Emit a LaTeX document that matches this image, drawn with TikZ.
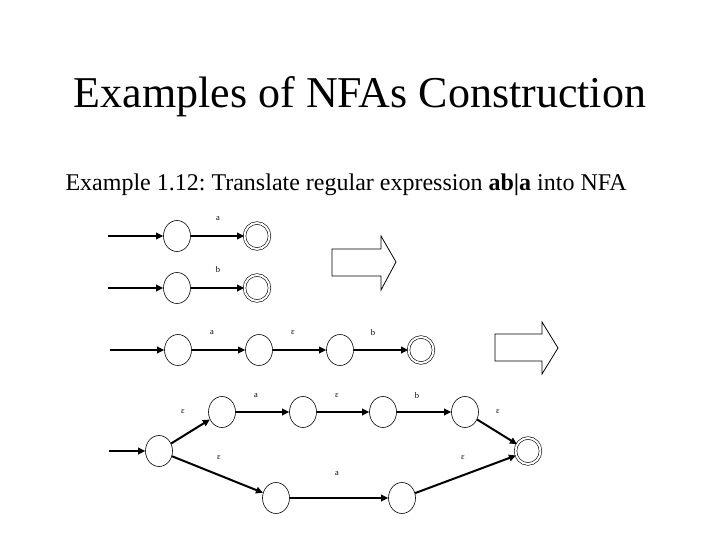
\documentclass[tikz,border=0pt]{standalone}
\usepackage{fontspec}
\setmainfont{Liberation Serif}
\usetikzlibrary{arrows.meta,shapes.geometric}
\frenchspacing
\begin{document}
\begin{tikzpicture}[x=1pt,y=-1pt,
  st/.style={draw,ellipse,line width=0.6pt,minimum width=27pt,minimum height=31pt,inner sep=0pt},
  acc/.style={draw,ellipse,double,double distance=2pt,line width=0.6pt,minimum width=25pt,minimum height=26pt,inner sep=0pt},
  tr/.style={line width=2pt,-{Triangle[length=7pt,width=6.5pt]}},
  lab/.style={font=\fontsize{8.5}{9}\selectfont,inner sep=0pt},
  big/.style={draw,line width=0.8pt}]
\useasboundingbox (0,0) rectangle (720,540);
\node[font=\fontsize{44}{50}\selectfont] (title) at (360,97) {Examples of NFAs Construction};
\node[font=\fontsize{24}{28}\selectfont,anchor=west] (sub) at (62,185) {Example 1.12: Translate regular expression \textbf{ab|a} into NFA};
% row 1
\coordinate (s1) at (108,236);
\node[st] (a1) at (177,236) {};
\node[acc] (a2) at (257,236) {};
\draw[tr] (s1) -- (a1);
\draw[tr] (a1) -- (a2);
\node[lab] (la1) at (218,219) {a};
% row 2
\coordinate (s2) at (108,288);
\node[st] (b1) at (177,288) {};
\node[acc] (b2) at (257,288) {};
\draw[tr] (s2) -- (b1);
\draw[tr] (b1) -- (b2);
\node[lab] (lb1) at (218,270) {b};
% big arrow 1
\draw[big] (332,249) -- (381,249) -- (381,236) -- (396,262) -- (381,290) -- (381,276) -- (332,276) -- cycle;
% row 3
\coordinate (s3) at (110,350);
\node[st] (c1) at (178,350) {};
\node[st] (c2) at (259,350) {};
\node[st] (c3) at (340,350) {};
\node[acc] (c4) at (421,350) {};
\draw[tr] (s3) -- (c1);
\draw[tr] (c1) -- (c2);
\draw[tr] (c2) -- (c3);
\draw[tr] (c3) -- (c4);
\node[lab] (lc1) at (212,333) {a};
\node[lab] (lc2) at (293,333) {ε};
\node[lab] (lc3) at (373,333) {b};
% big arrow 2
\draw[big] (495,334) -- (542,334) -- (542,322) -- (558,348) -- (542,374) -- (542,361) -- (495,361) -- cycle;
% row 4
\coordinate (s4) at (109,451);
\node[st] (d0) at (159,451) {};
\node[st] (d1) at (222,412) {};
\node[st] (d2) at (303,412) {};
\node[st] (d3) at (383,412) {};
\node[st] (d4) at (465,412) {};
\node[acc] (d5) at (528,451) {};
\node[st] (e1) at (276,498) {};
\node[st] (e2) at (402,498) {};
\draw[tr] (s4) -- (d0);
\draw[tr] (d0) -- (d1);
\draw[tr] (d1) -- (d2);
\draw[tr] (d2) -- (d3);
\draw[tr] (d3) -- (d4);
\draw[tr] (d4) -- (d5);
\draw[tr] (d0) -- (e1);
\draw[tr] (e1) -- (e2);
\draw[tr] (e2) -- (d5);
\node[lab] (l1) at (183,412) {ε};
\node[lab] (l2) at (256,396) {a};
\node[lab] (l3) at (337,396) {ε};
\node[lab] (l4) at (417,396) {b};
\node[lab] (l5) at (498,412) {ε};
\node[lab] (l6) at (219,458) {ε};
\node[lab] (l7) at (463,458) {ε};
\node[lab] (l8) at (337,474) {a};
\end{tikzpicture}
\end{document}
